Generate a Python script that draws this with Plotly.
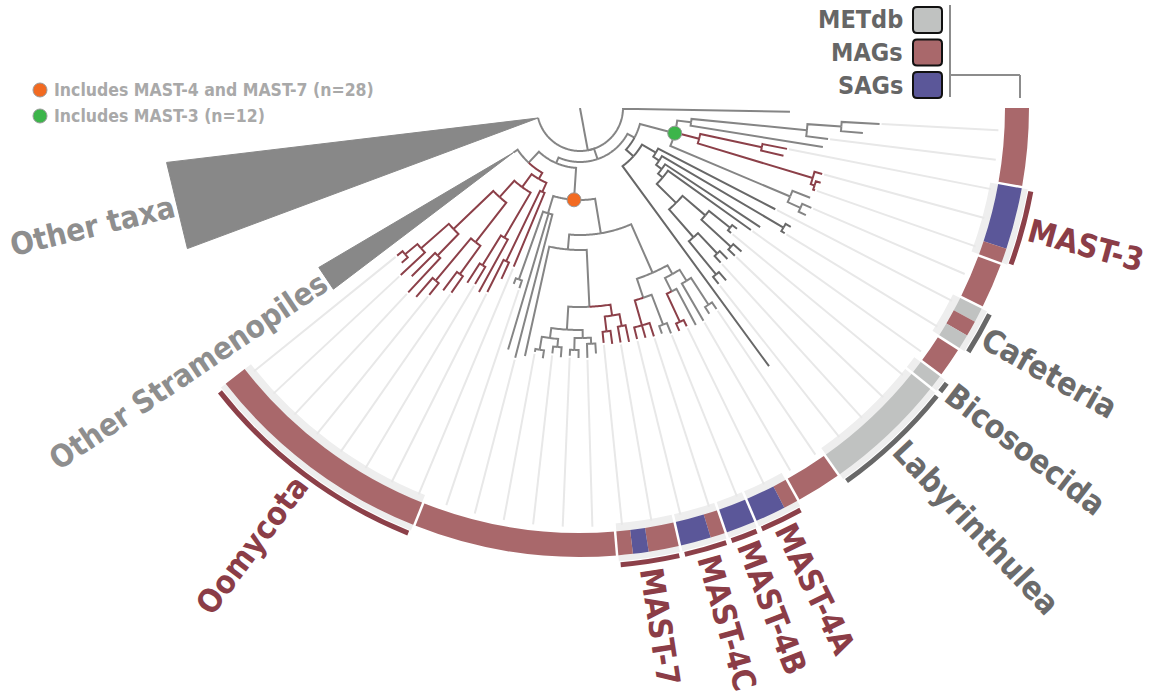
import numpy as np
import plotly.graph_objects as go

W, H = 1151, 694
CX, CY = 580.0, 108.0       # pixel position of the tree root
R_MAX = 470.0               # radial axis span (1 unit = 1 px)

# ---------------- tree tips, clockwise from the top ----------------
tip_radius = [210, 300, 284, 250, 246, 211, 209, 251, 252, 249, 247, 252, 250,
              220, 242, 240, 216, 210, 198, 196, 216, 214, 211, 209, 226, 224, 320,
              243, 243, 246, 246, 243, 244, 243, 240, 240, 239, 238, 239, 238, 238, 236,
              246, 250, 250, 248, 250, 247, 253, 248, 254, 258, 252, 190, 188,
              172, 188, 206, 210, 205, 208, 225, 228, 240, 250, 252, 238, 245, 236, 235]
# g = grey branch, d = dark grey branch, r = MAG-bearing (red) branch
tip_colour = ("g" + "gggg" + "rrrrr" + "ggg" + "d" * 14 + "gggg" + "rr" + "gg"
              + "rrr" + "rrrr" + "g" * 13 + "r" * 15)
TIP_STEP = 2.03             # degrees per tip

# collapsed clades (drawn as triangles)
collapsed_name = ["Other Stramenopiles", "Other taxa"]
collapsed_apex_r = [80, 43]
collapsed_apex_theta = [146.2, 166.6]
collapsed_far_r = [306, 417]
collapsed_theta_lo = [143.7, 160.3]
collapsed_theta_hi = [148.6, 172.5]

# internal nodes: first tip, last tip (70/71 = collapsed clades), node depth
node_first = [0, 1, 1, 1, 1, 1, 1, 5, 5, 7, 8, 10, 11,
              13, 13, 14, 14, 16, 17, 18, 18, 18, 20, 22, 22, 24,
              27, 27, 51, 53, 27, 38, 38, 42, 46, 48, 46, 42, 44, 42, 38, 40, 38,
              27, 33, 35, 33, 27, 30, 31, 27, 27,
              55, 55, 55, 56, 58, 58, 59, 61, 61, 61, 63, 65, 65, 67, 68]
node_last = [71, 70, 26, 12, 4, 3, 2, 9, 6, 9, 9, 12, 12,
             26, 25, 25, 15, 25, 25, 25, 21, 19, 21, 25, 23, 25,
             70, 54, 54, 54, 50, 50, 49, 49, 49, 49, 47, 45, 45, 43, 41, 41, 39,
             37, 37, 37, 34, 32, 32, 32, 29, 28,
             70, 69, 57, 57, 69, 60, 60, 69, 64, 62, 64, 69, 66, 69, 69]
node_radius = [43, 54, 62, 98, 112, 228, 262, 123, 186, 243, 247, 228, 242,
               72, 88, 95, 236, 102, 108, 135, 165, 192, 205, 172, 200, 215,
               60, 92, 110, 182, 127, 142, 199, 222, 232, 245, 240, 230, 242, 236, 210, 225, 222,
               180, 200, 226, 232, 190, 205, 236, 203, 235,
               75, 82, 92, 170, 98, 150, 185, 120, 170, 205, 225, 175, 205, 212, 228]

# annotated nodes
marked_first = [27, 1]
marked_last = [54, 12]
marked_colour = ["#f26a21", "#3cb54a"]
marked_text = ["Includes MAST-4 and MAST-7 (n=28)", "Includes MAST-3 (n=12)"]

# ---------------- genome source ring ----------------
source_type = ("MMMMM" + "SSSSM" + "MMM" + "EME" + "MM" + "E" + "EEEEEEEE" + "MMM"
               + "MSS" + "SS" + "MSS" + "MMSM" + "M" * 13 + "M" * 15)
group_start = [0, 5, 10, 13, 16, 18, 19, 27, 30, 33, 35, 38, 42, 55]
source_names = ["METdb", "MAGs", "SAGs"]
source_keys = ["E", "M", "S"]

clade_label = ["MAST-3", "Cafeteria", "Bicosoecida", "Labyrinthulea",
               "MAST-4A", "MAST-4B", "MAST-4C", "MAST-7", "Oomycota"]
clade_first = [5, 13, 18, 19, 30, 33, 35, 38, 55]
clade_last = [9, 15, 18, 26, 32, 34, 37, 41, 69]
clade_is_mast = [True, False, False, False, True, True, True, True, True]

# ---------------- styling ----------------
GREY, DARK, RED = "#858585", "#686868", "#8c4049"
line_colour = {"g": GREY, "d": DARK, "r": RED}
source_colour = {"E": "#c0c2c1", "M": "#a9686b", "S": "#5b5799"}
LABEL_RED, LABEL_DARK, LABEL_LIGHT = "#8b3d47", "#6b6b6b", "#8e8e8e"
FONT = "DejaVu Sans Condensed, DejaVu Sans, sans-serif"
LABEL_SIZE = 32
COLLAPSED_LABEL_SIZE = 31
RING_IN, RING_OUT = 425, 449
BAND_IN, BAND_OUT = 417, 455
BAR_IN, BAR_OUT = 456, 461
LABEL_R = 465

# ---------------- tree layout ----------------
n_tips = len(tip_radius)
n_coll = len(collapsed_name)
leaf_theta = [TIP_STEP * (j + 0.5) for j in range(n_tips)]

first = list(range(n_tips)) + [n_tips + k for k in range(n_coll)] + node_first
last = list(range(n_tips)) + [n_tips + k for k in range(n_coll)] + node_last
rad = list(tip_radius) + collapsed_apex_r + node_radius
theta = leaf_theta + collapsed_apex_theta + [None] * len(node_first)
n_items = len(first)
node_ids = list(range(n_tips + n_coll, n_items))


def span(i):
    return last[i] - first[i]


parent = [None] * n_items
for i in range(n_items):
    best = None
    for n in node_ids:
        if n != i and first[n] <= first[i] and last[i] <= last[n] and span(n) > span(i):
            if best is None or span(n) < span(best):
                best = n
    parent[i] = best

children = {n: [] for n in node_ids}
for i, p in enumerate(parent):
    if p is not None:
        children[p].append(i)
for n in sorted(node_ids, key=span):
    theta[n] = float(np.mean([theta[c] for c in children[n]]))


def leaf_col(k):
    return tip_colour[k] if k < n_tips else "g"


colour = []
for i in range(n_items):
    cols = {leaf_col(k) for k in range(first[i], last[i] + 1)}
    colour.append(cols.pop() if len(cols) == 1 else "g")


def arc(r, t0, t1):
    n = max(2, int(abs(t1 - t0) / 0.5) + 2)
    return [r] * n, list(np.linspace(t0, t1, n))


paths = {c: ([], []) for c in "gdr"}
for i, p in enumerate(parent):
    if p is None:
        continue
    rr, tt = arc(rad[p], theta[p], theta[i])
    rr.append(rad[i])
    tt.append(theta[i])
    paths[colour[i]][0].extend(rr + [None])
    paths[colour[i]][1].extend(tt + [None])
root = parent.index(None)
paths["g"][0].extend([0, rad[root], None])
paths["g"][1].extend([theta[root], theta[root], None])

fig = go.Figure()

# guides from tips to the ring
gr, gt = [], []
for j in range(1, n_tips, 2):
    gr += [tip_radius[j] + 2, BAND_IN + 2, None]
    gt += [leaf_theta[j], leaf_theta[j], None]
fig.add_trace(go.Scatterpolar(r=gr, theta=gt, mode="lines",
                              line=dict(color="#e8e8e8", width=2), hoverinfo="skip"))


def tile_edge(k):
    return TIP_STEP * k


# highlight bands behind labelled clades
fig.add_trace(go.Barpolar(
    r=[BAND_OUT - BAND_IN] * len(clade_label), base=[BAND_IN] * len(clade_label),
    theta=[(tile_edge(a) + tile_edge(b + 1)) / 2 for a, b in zip(clade_first, clade_last)],
    width=[tile_edge(b + 1) - tile_edge(a) for a, b in zip(clade_first, clade_last)],
    marker=dict(color="#eeeeee", line=dict(width=0)), hoverinfo="skip"))

# source ring, one bar per run of equal source inside each group
bounds = group_start + [n_tips]
run_t, run_w, run_c = [], [], []
for g in range(len(group_start)):
    k = bounds[g]
    while k < bounds[g + 1]:
        e = k
        while e + 1 < bounds[g + 1] and source_type[e + 1] == source_type[k]:
            e += 1
        run_t.append((tile_edge(k) + tile_edge(e + 1)) / 2)
        run_w.append(tile_edge(e + 1) - tile_edge(k))
        run_c.append(source_colour[source_type[k]])
        k = e + 1
fig.add_trace(go.Barpolar(r=[RING_OUT - RING_IN] * len(run_t), base=[RING_IN] * len(run_t),
                          theta=run_t, width=run_w,
                          marker=dict(color=run_c, line=dict(width=0)), hoverinfo="skip"))

# white gaps between groups
sr, st = [], []
for b in group_start[1:]:
    sr += [BAND_IN - 2, BAND_OUT + 1, None]
    st += [tile_edge(b), tile_edge(b), None]
fig.add_trace(go.Scatterpolar(r=sr, theta=st, mode="lines",
                              line=dict(color="white", width=2.5), hoverinfo="skip"))

# clade bars
fig.add_trace(go.Barpolar(
    r=[BAR_OUT - BAR_IN] * len(clade_label), base=[BAR_IN] * len(clade_label),
    theta=[(tile_edge(a) + tile_edge(b + 1)) / 2 for a, b in zip(clade_first, clade_last)],
    width=[tile_edge(b + 1) - tile_edge(a) - 0.7 for a, b in zip(clade_first, clade_last)],
    marker=dict(color=[RED if m else DARK for m in clade_is_mast], line=dict(width=0)),
    hoverinfo="skip"))

# collapsed clades
for k in range(n_coll):
    fig.add_trace(go.Scatterpolar(
        r=[collapsed_apex_r[k], collapsed_far_r[k], collapsed_far_r[k], collapsed_apex_r[k]],
        theta=[collapsed_apex_theta[k], collapsed_theta_hi[k], collapsed_theta_lo[k],
               collapsed_apex_theta[k]],
        mode="lines", fill="toself", fillcolor="#888888",
        line=dict(color="#888888", width=1), hoverinfo="skip"))

# tree branches
for c in "gdr":
    fig.add_trace(go.Scatterpolar(r=paths[c][0], theta=paths[c][1], mode="lines",
                                  line=dict(color=line_colour[c], width=2),
                                  hoverinfo="skip"))

# marked nodes
mk_r, mk_t = [], []
for a, b in zip(marked_first, marked_last):
    n = [i for i in node_ids if first[i] == a and last[i] == b][0]
    mk_r.append(rad[n])
    mk_t.append(theta[n])
fig.add_trace(go.Scatterpolar(r=mk_r, theta=mk_t, mode="markers",
                              marker=dict(size=14, color=marked_colour,
                                          line=dict(color="#9a9a9a", width=1)),
                              hoverinfo="skip"))


# ---------------- text ----------------
def to_paper(r, th):
    a = np.radians(th)
    return (CX + r * np.cos(a)) / W, 1 - (CY + r * np.sin(a)) / H


def radial_label(text, r, th, colour_, size):
    hidden = f"<span style='color:rgba(0,0,0,0)'>{text}</span>"
    if th <= 90:
        txt, ang = hidden + text, th
    else:
        txt, ang = text + hidden, th - 180
    x, y = to_paper(r, th)
    fig.add_annotation(x=x, y=y, xref="paper", yref="paper", text=txt, textangle=ang,
                       showarrow=False, xanchor="center", yanchor="middle",
                       font=dict(family=FONT, size=size, color=colour_, weight="bold"))


for lab, a, b, m in zip(clade_label, clade_first, clade_last, clade_is_mast):
    mid = (tile_edge(a) + tile_edge(b + 1)) / 2
    radial_label(lab, LABEL_R, mid, LABEL_RED if m else LABEL_DARK, LABEL_SIZE)

for k in range(n_coll):
    mid = (collapsed_theta_lo[k] + collapsed_theta_hi[k]) / 2
    half = np.radians((collapsed_theta_hi[k] - collapsed_theta_lo[k]) / 2)
    chord_r = collapsed_far_r[k] * np.cos(half)     # straight far edge of the triangle
    radial_label(collapsed_name[k], chord_r + 3, mid, LABEL_LIGHT, COLLAPSED_LABEL_SIZE)

shapes = []


def px(x):
    return x / W


def py(y):
    return 1 - y / H


# marked-node legend (top left)
for i, (col, txt) in enumerate(zip(marked_colour, marked_text)):
    yc = 90 + 26 * i
    shapes.append(dict(type="circle", xref="paper", yref="paper",
                       x0=px(33), x1=px(47), y0=py(yc + 7), y1=py(yc - 7),
                       fillcolor=col, line=dict(color="#9a9a9a", width=1)))
    fig.add_annotation(x=px(52), y=py(yc), xref="paper", yref="paper", text=txt,
                       showarrow=False, xanchor="left", yanchor="middle",
                       font=dict(family=FONT, size=17.5, color="#a9a9a9", weight="bold"))

# source legend (top right)
for i, (name, key) in enumerate(zip(source_names, source_keys)):
    y0 = 7 + 32.5 * i
    y1 = y0 + 26
    x0, x1, rr = 913, 942, 4
    path = (f"M {px(x0 + rr)} {py(y0)} L {px(x1 - rr)} {py(y0)} "
            f"Q {px(x1)} {py(y0)} {px(x1)} {py(y0 + rr)} L {px(x1)} {py(y1 - rr)} "
            f"Q {px(x1)} {py(y1)} {px(x1 - rr)} {py(y1)} L {px(x0 + rr)} {py(y1)} "
            f"Q {px(x0)} {py(y1)} {px(x0)} {py(y1 - rr)} L {px(x0)} {py(y0 + rr)} "
            f"Q {px(x0)} {py(y0)} {px(x0 + rr)} {py(y0)} Z")
    shapes.append(dict(type="path", xref="paper", yref="paper", path=path,
                       fillcolor=source_colour[key], line=dict(color="#111111", width=2)))
    fig.add_annotation(x=px(905), y=py((y0 + y1) / 2), xref="paper", yref="paper",
                       text=name, showarrow=False, xanchor="right", yanchor="middle",
                       font=dict(family=FONT, size=25, color="#666666", weight="bold"))

for (x0, y0, x1, y1) in [(950, 5, 950, 97), (950, 75, 1020, 75), (1020, 75, 1020, 98)]:
    shapes.append(dict(type="line", xref="paper", yref="paper",
                       x0=px(x0), y0=py(y0), x1=px(x1), y1=py(y1),
                       line=dict(color="#8c8c8c", width=2)))

fig.update_layout(
    width=W, height=H, margin=dict(l=0, r=0, t=0, b=0), autosize=False,
    paper_bgcolor="white", plot_bgcolor="white", showlegend=False,
    shapes=shapes,
    polar=dict(
        domain=dict(x=[(CX - R_MAX) / W, (CX + R_MAX) / W],
                    y=[1 - (CY + R_MAX) / H, 1 - CY / H]),
        sector=[180, 360], hole=0, bgcolor="rgba(0,0,0,0)",
        barmode="overlay", bargap=0,
        radialaxis=dict(range=[0, R_MAX], visible=False, showgrid=False,
                        showline=False, showticklabels=False, ticks=""),
        angularaxis=dict(direction="clockwise", rotation=0, visible=False,
                         showgrid=False, showline=False, showticklabels=False, ticks=""),
    ),
)

fig.write_html("out.html")
